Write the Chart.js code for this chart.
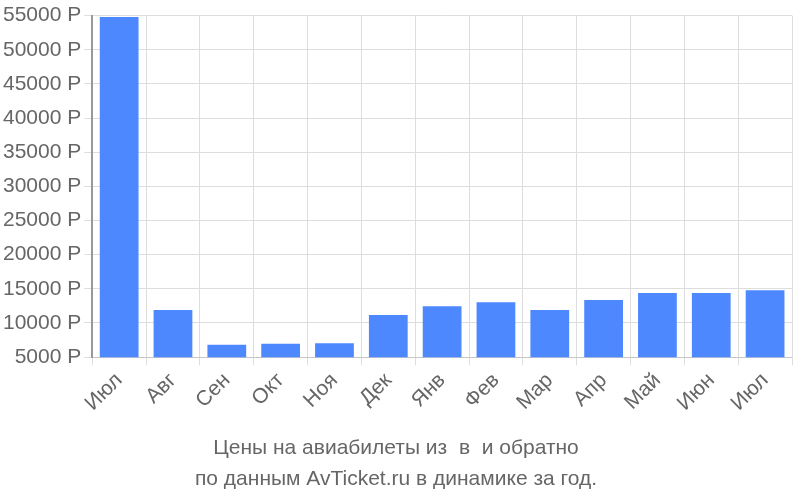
<!DOCTYPE html>
<html><head><meta charset="utf-8">
<script src="https://cdn.jsdelivr.net/npm/chart.js@4"></script>
<style>body{margin:0;background:#fff}#w{width:800px;height:500px}</style>
</head><body><div id="w"><canvas id="c"></canvas></div>
<script>
const categories=["Июл","Авг","Сен","Окт","Ноя","Дек","Янв","Фев","Мар","Апр","Май","Июн","Июл"];
const prices=[54800,11900,6800,6950,7050,11150,12450,13050,11900,13350,14400,14400,14800];
const titleLines=["Цены на авиабилеты из  в  и обратно","по данным AvTicket.ru в динамике за год."];
new Chart(document.getElementById('c'),{
type:'bar',
data:{labels:categories,datasets:[{data:prices,backgroundColor:'#4d88ff',categoryPercentage:0.8,barPercentage:0.9}]},
options:{responsive:true,maintainAspectRatio:false,animation:false,
layout:{padding:{right:8,top:4}},
plugins:{legend:{display:false},tooltip:{enabled:false},
title:{display:true,position:'bottom',text:titleLines,color:'#666',font:{family:'Liberation Sans',size:21,weight:'normal',lineHeight:1.45},padding:{top:14,bottom:6}}},
scales:{
x:{grid:{color:'#ddd',offset:true},ticks:{color:'#666',font:{family:'Liberation Sans',size:21},maxRotation:45,minRotation:45}},
y:{min:5000,max:55000,grid:{color:'#ddd'},border:{color:'#999',width:2},ticks:{stepSize:5000,color:'#666',font:{family:'Liberation Sans',size:21},callback:v=>v+' Р'}}
}}});
</script></body></html>
